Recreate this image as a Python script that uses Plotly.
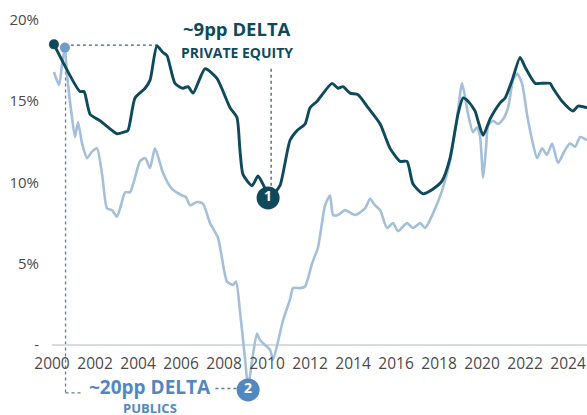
import plotly.graph_objects as go

# ---- data ----
pe_years = [2000.09, 2001.30, 2001.49, 2001.77, 2002.23, 2002.70, 2003.02, 2003.35, 2003.53, 2003.86,
            2004.33, 2004.56, 2004.88, 2005.16, 2005.35, 2005.72, 2006.09, 2006.33, 2006.56, 2007.12,
            2007.67, 2008.28, 2008.60, 2008.74, 2008.88, 2009.30, 2009.58, 2009.81, 2010.05, 2010.28,
            2010.60, 2011.07, 2011.40, 2011.77, 2012.00, 2012.33, 2013.02, 2013.30, 2013.53, 2013.86,
            2014.23, 2014.70, 2015.26, 2015.72, 2016.19, 2016.51, 2016.79, 2017.26, 2017.72, 2018.14,
            2018.51, 2018.88, 2019.12, 2019.35, 2019.67, 2019.81, 2020.05, 2020.37, 2020.84, 2021.07,
            2021.40, 2021.77, 2022.00, 2022.47, 2022.70, 2023.16, 2023.30, 2023.72, 2024.23, 2024.47,
            2024.88]
pe_values = [18.5, 15.6, 15.6, 14.2, 13.8, 13.3, 13.0, 13.1, 13.2, 15.2,
             15.8, 16.3, 18.4, 18.0, 17.8, 16.1, 15.8, 15.9, 15.5, 17.0,
             16.4, 14.6, 14.0, 12.0, 10.5, 9.8, 10.4, 9.9, 9.3, 9.3,
             9.8, 12.6, 13.2, 13.6, 14.6, 15.0, 16.1, 15.8, 15.9, 15.5,
             15.4, 14.6, 13.6, 12.1, 11.3, 11.3, 9.9, 9.3, 9.6, 10.1,
             11.5, 14.2, 15.2, 15.0, 14.4, 13.8, 12.9, 13.9, 14.9, 15.2,
             16.3, 17.7, 17.1, 16.1, 16.1, 16.1, 15.8, 15.0, 14.4, 14.7,
             14.6]

pub_years = [2000.09, 2000.33, 2000.47, 2000.60, 2000.70, 2000.93, 2001.07, 2001.21, 2001.40, 2001.63,
             2001.86, 2002.09, 2002.33, 2002.56, 2002.79, 2003.02, 2003.21, 2003.40, 2003.63, 2003.86,
             2004.09, 2004.33, 2004.56, 2004.79, 2005.16, 2005.58, 2006.05, 2006.23, 2006.42, 2006.74,
             2007.02, 2007.35, 2007.72, 2008.14, 2008.42, 2008.56, 2008.74, 2008.98, 2009.12, 2009.30,
             2009.53, 2009.67, 2009.91, 2010.14, 2010.28, 2010.74, 2011.07, 2011.21, 2011.53, 2011.77,
             2012.09, 2012.37, 2012.70, 2012.93, 2013.07, 2013.30, 2013.63, 2014.09, 2014.56, 2014.79,
             2015.02, 2015.26, 2015.58, 2015.86, 2016.09, 2016.51, 2016.79, 2017.12, 2017.35, 2017.72,
             2018.14, 2018.51, 2018.84, 2019.07, 2019.35, 2019.58, 2019.77, 2019.91, 2020.05, 2020.19,
             2020.28, 2020.51, 2020.74, 2020.98, 2021.21, 2021.44, 2021.63, 2021.86, 2022.09, 2022.33,
             2022.56, 2022.79, 2023.02, 2023.26, 2023.53, 2023.86, 2024.09, 2024.33, 2024.56, 2024.88]
pub_values = [16.8, 16.0, 17.3, 18.3, 16.6, 14.0, 12.8, 13.7, 12.4, 11.5,
              11.9, 12.1, 10.5, 8.4, 8.3, 7.9, 8.6, 9.4, 9.4, 10.3,
              11.3, 11.5, 10.9, 12.1, 10.6, 9.6, 9.2, 9.1, 8.6, 8.8,
              8.7, 7.5, 6.6, 3.9, 3.7, 3.9, 2.1, -0.9, -2.6, -1.0,
              0.7, 0.3, 0.0, -0.3, -0.9, 1.5, 2.8, 3.5, 3.5, 3.6,
              5.0, 6.0, 8.6, 9.2, 8.0, 8.0, 8.3, 8.0, 8.4, 9.0,
              8.6, 8.3, 7.2, 7.5, 7.0, 7.5, 7.2, 7.5, 7.2, 8.1,
              9.5, 11.3, 14.0, 16.1, 14.2, 13.1, 13.4, 12.8, 10.3, 12.2,
              13.5, 13.8, 13.6, 13.9, 14.6, 16.3, 16.7, 16.1, 14.2, 12.6,
              11.5, 12.1, 11.7, 12.4, 11.2, 12.0, 12.4, 12.2, 12.8, 12.6]

x_ticks = [2000, 2002, 2004, 2006, 2008, 2010, 2012, 2014, 2016, 2018, 2020, 2022, 2024]
y_ticks = [0, 5, 10, 15, 20]
y_tick_labels = ["-", "5%", "10%", "15%", "20%"]

# ---- styling ----
DARK = "#0f4a5c"
LIGHT = "#a3bfda"
MID = "#5387bf"
FONT = "Open Sans"

fig = go.Figure()

fig.add_trace(go.Scatter(x=pub_years, y=pub_values, mode="lines",
                         line=dict(color=LIGHT, width=2.6, shape="spline", smoothing=0.6),
                         hoverinfo="skip", showlegend=False))
fig.add_trace(go.Scatter(x=pe_years, y=pe_values, mode="lines",
                         line=dict(color=DARK, width=2.9, shape="spline", smoothing=0.6),
                         hoverinfo="skip", showlegend=False))

# derived reference points
pe_start_x, pe_start_y = pe_years[0], pe_values[0]
pub_peak_i = max(range(10), key=lambda i: pub_values[i])
pub_pk_x, pub_pk_y = pub_years[pub_peak_i], pub_values[pub_peak_i]
pe_min_i = min(range(len(pe_values)), key=lambda i: pe_values[i] + (0 if 2009 < pe_years[i] < 2011 else 99))
pe_min_x, pe_min_y = pe_years[pe_min_i], pe_values[pe_min_i]
pub_min_i = min(range(len(pub_values)), key=lambda i: pub_values[i])
pub_min_x, pub_min_y = pub_years[pub_min_i], pub_values[pub_min_i]
pe_peak_i = max(range(20), key=lambda i: pe_values[i] if pe_years[i] > 2004 else -1)
pe_pk_x = pe_years[pe_peak_i]

dot = dict(dash="dot", width=1.3)
# top horizontal dotted line (start level to 2004 peak)
fig.add_shape(type="line", x0=pub_pk_x, x1=pe_pk_x + 0.1, y0=18.45, y1=18.45,
              line=dict(color="#3a5d7c", **dot), layer="below")
# publics vertical + horizontal leader
fig.add_shape(type="line", x0=pub_pk_x + 0.03, x1=pub_pk_x + 0.03, y0=pub_pk_y, y1=-2.95,
              line=dict(color="#5a7da3", **dot), layer="below")
fig.add_shape(type="line", x0=pub_pk_x + 0.03, x1=2001.45, y0=-2.95, y1=-2.95,
              line=dict(color="#5a7da3", **dot), layer="below")
fig.add_shape(type="line", x0=2007.6, x1=pub_min_x - 0.45, y0=-2.68, y1=-2.68,
              line=dict(color="#5a7da3", **dot), layer="below")
# PE vertical leader
fig.add_shape(type="line", x0=2010.19, x1=2010.19, y0=17.0, y1=pe_min_y - 0.1,
              line=dict(color="#3a5d7c", **dot), layer="below")

# start dots
fig.add_trace(go.Scatter(x=[pe_start_x], y=[pe_start_y], mode="markers",
                         marker=dict(color=DARK, size=10), cliponaxis=False,
                         hoverinfo="skip", showlegend=False))
fig.add_trace(go.Scatter(x=[pub_pk_x], y=[pub_pk_y], mode="markers",
                         marker=dict(color="#6f9ccb", size=10), cliponaxis=False,
                         hoverinfo="skip", showlegend=False))

# numbered circles
fig.add_trace(go.Scatter(x=[pe_min_x], y=[pe_min_y - 0.25], mode="markers+text", text=["<b>1</b>"],
                         textfont=dict(color="white", size=14, family=FONT),
                         marker=dict(color=DARK, size=23), cliponaxis=False,
                         hoverinfo="skip", showlegend=False))
fig.add_trace(go.Scatter(x=[pub_min_x], y=[pub_min_y - 0.17], mode="markers+text", text=["<b>2</b>"],
                         textfont=dict(color="white", size=14, family=FONT),
                         marker=dict(color=MID, size=23), cliponaxis=False,
                         hoverinfo="skip", showlegend=False))

# text annotations
fig.add_annotation(x=2008.6, y=19.45, text="<b>~9pp DELTA</b>", showarrow=False,
                   font=dict(color=DARK, size=18.5, family=FONT))
fig.add_annotation(x=2008.6, y=18.0, text="<b>PRIVATE EQUITY</b>", showarrow=False,
                   font=dict(color=DARK, size=14, family=FONT))
fig.add_annotation(x=2004.56, y=-2.6, text="<b>~20pp DELTA</b>", showarrow=False,
                   font=dict(color=MID, size=19, family=FONT))
fig.add_annotation(x=2004.56, y=-3.9, text="<b>PUBLICS</b>", showarrow=False,
                   font=dict(color=MID, size=13, family=FONT))

fig.update_layout(
    width=587, height=415,
    margin=dict(l=52, r=0, t=0, b=0),
    paper_bgcolor="white", plot_bgcolor="white",
    showlegend=False,
    xaxis=dict(range=[2000.0, 2024.88], tickvals=x_ticks, ticktext=[str(t) for t in x_ticks],
               showgrid=False, zeroline=False, showline=False,
               anchor="free", position=70 / 415,
               ticks="outside", ticklen=4, tickcolor="rgba(0,0,0,0)",
               tickfont=dict(family=FONT, size=15.5, color="#4a4a4a")),
    yaxis=dict(range=[-4.31, 21.23], tickvals=y_ticks, ticktext=y_tick_labels,
               showgrid=False, zeroline=True, zerolinecolor="#d7dce3", zerolinewidth=1.5,
               showline=False, ticks="outside", ticklen=9, tickcolor="rgba(0,0,0,0)",
               tickfont=dict(family=FONT, size=15, color="#4a4a4a")),
)

fig.write_html("out.html", config={"displayModeBar": False},
               post_script="document.body.style.margin='0';document.body.style.overflow='hidden';")
